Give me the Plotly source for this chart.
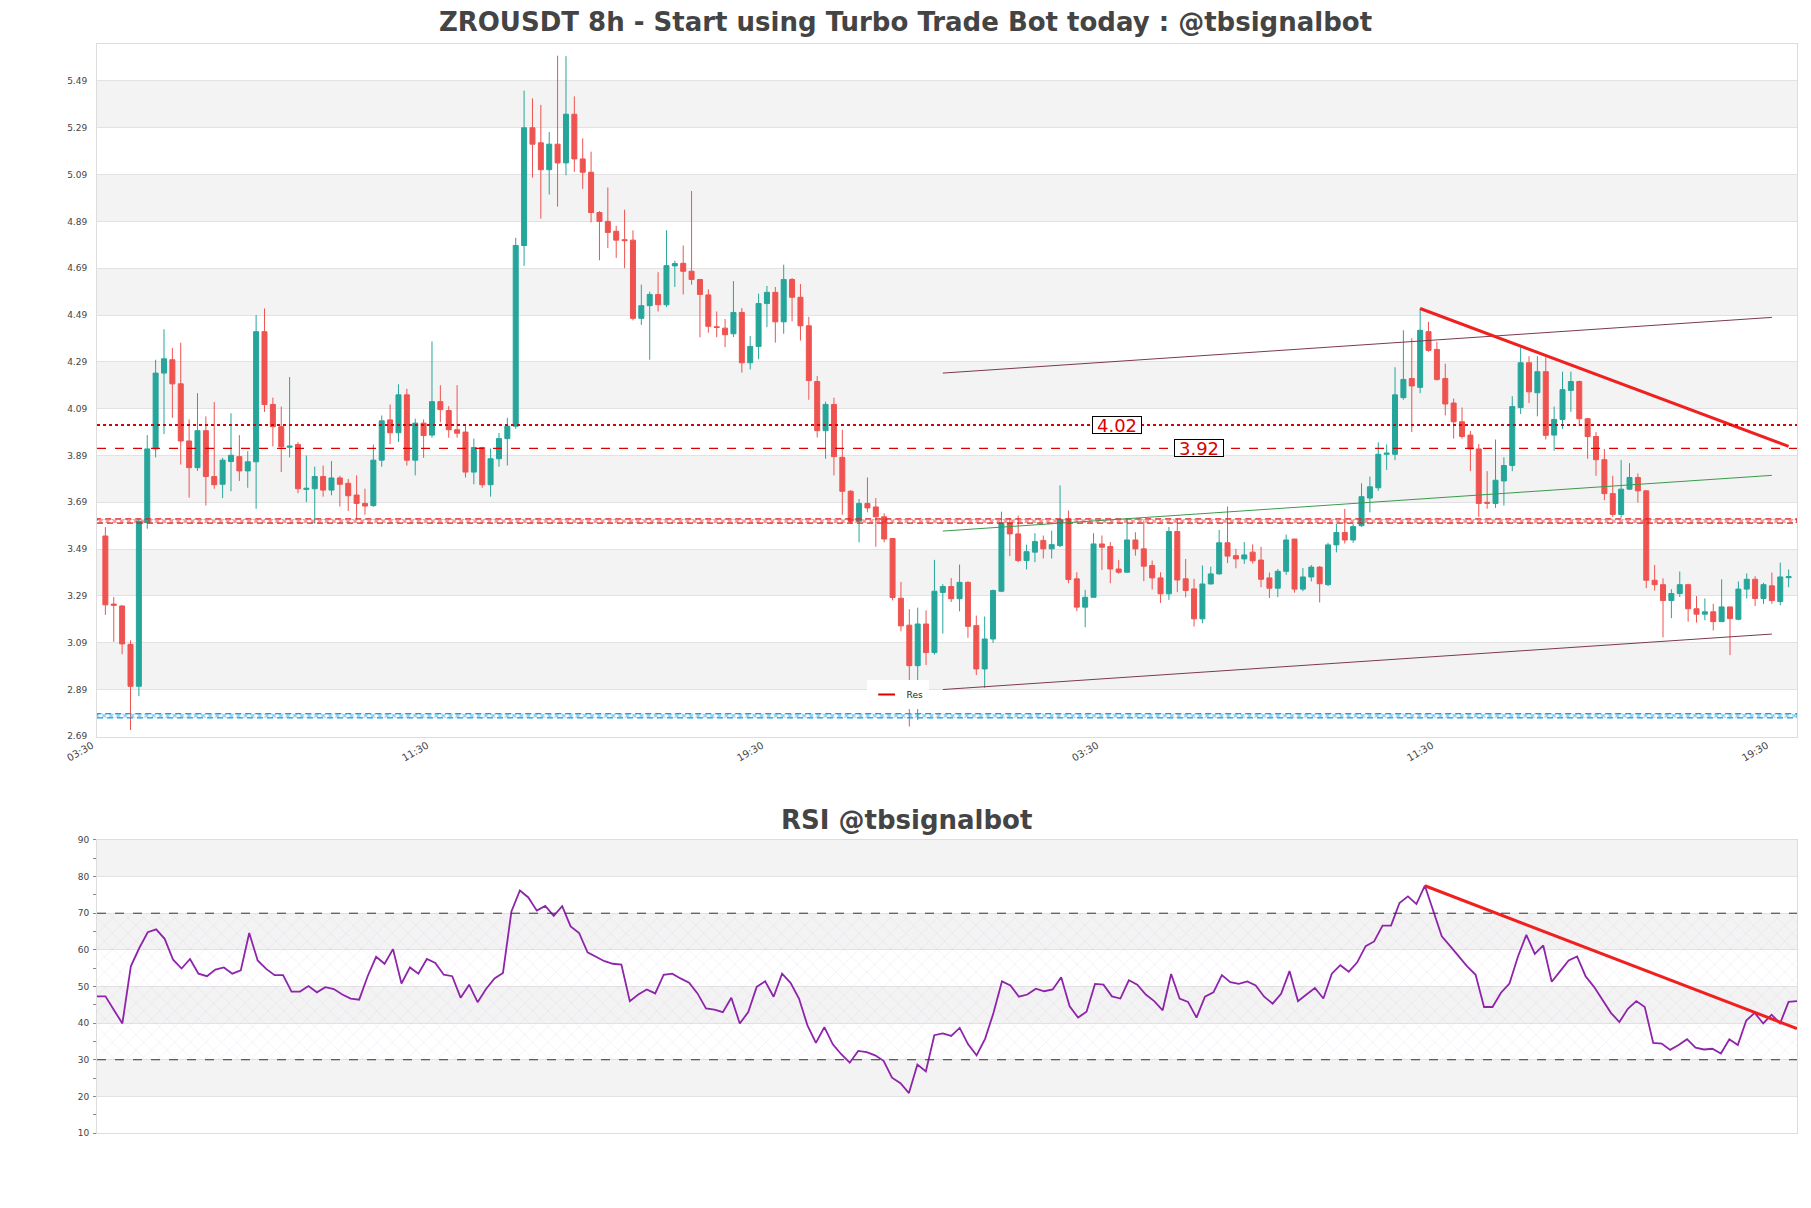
import plotly.graph_objects as go

# ---------------- data ----------------
candle_idx = list(range(202))
opens = [3.546,3.255,3.247,3.083,2.904,3.603,3.918,4.242,4.299,4.196,3.952,3.838,3.996,3.800,3.767,3.864,3.885,3.824,3.863,4.419,
 4.108,4.013,3.925,3.937,3.745,3.748,3.800,3.742,3.794,3.771,3.721,3.685,3.676,3.870,4.042,3.987,4.149,3.870,4.028,3.977,
 4.120,4.082,4.000,3.990,3.819,3.924,3.765,3.876,3.962,4.015,4.787,5.290,5.226,5.111,5.220,5.140,5.348,5.157,5.100,4.928,
 4.890,4.848,4.812,4.810,4.476,4.530,4.578,4.534,4.700,4.711,4.677,4.642,4.576,4.440,4.434,4.410,4.501,4.286,4.356,4.539,
 4.587,4.461,4.642,4.566,4.444,4.206,3.996,4.108,3.882,3.737,3.609,3.685,3.670,3.628,3.535,3.280,3.165,2.992,3.170,3.048,
 3.305,3.330,3.278,3.348,3.163,2.978,3.106,3.310,3.602,3.555,3.441,3.477,3.527,3.491,3.505,3.616,3.363,3.242,3.284,3.512,
 3.501,3.405,3.391,3.529,3.491,3.420,3.367,3.299,3.565,3.363,3.320,3.192,3.341,3.384,3.517,3.462,3.448,3.477,3.443,3.367,
 3.323,3.395,3.533,3.319,3.371,3.413,3.338,3.508,3.561,3.529,3.590,3.708,3.752,3.895,3.895,4.137,4.219,4.181,4.419,4.343,
 4.219,4.114,4.034,3.977,3.918,3.690,3.685,3.781,3.847,4.095,4.286,4.158,4.248,3.977,4.044,4.168,4.206,4.047,3.971,3.872,
 3.727,3.638,3.746,3.796,3.739,3.357,3.338,3.270,3.300,3.338,3.235,3.212,3.222,3.180,3.243,3.190,3.319,3.361,3.279,3.333,
 3.266,3.368]
highs = [3.584,3.285,3.250,3.100,3.620,3.977,4.299,4.429,4.349,4.372,4.044,4.156,4.057,4.118,3.880,4.070,3.977,3.908,4.490,4.518,
 4.137,4.099,4.225,3.947,3.890,3.842,3.847,3.866,3.803,3.790,3.805,3.748,3.937,4.061,4.108,4.194,4.175,4.047,4.044,4.377,
 4.190,4.101,4.190,4.025,3.962,3.927,3.920,3.986,4.051,4.820,5.449,5.416,5.388,5.272,5.598,5.596,5.424,5.245,5.188,4.934,
 5.035,4.871,4.940,4.852,4.620,4.590,4.673,4.852,4.722,4.787,5.020,4.644,4.600,4.505,4.473,4.635,4.520,4.400,4.581,4.614,
 4.610,4.705,4.648,4.623,4.482,4.229,4.120,4.137,4.000,3.742,3.704,3.796,3.708,3.643,3.538,3.350,3.233,3.240,3.228,3.444,
 3.340,3.366,3.424,3.352,3.206,3.202,3.317,3.650,3.623,3.633,3.509,3.558,3.548,3.569,3.762,3.655,3.391,3.316,3.558,3.548,
 3.520,3.444,3.619,3.562,3.612,3.441,3.391,3.584,3.619,3.448,3.363,3.420,3.415,3.572,3.672,3.491,3.520,3.510,3.500,3.390,
 3.405,3.552,3.533,3.409,3.422,3.418,3.517,3.599,3.662,3.599,3.771,3.800,3.946,3.937,4.267,4.425,4.391,4.518,4.461,4.375,
 4.282,4.133,4.095,3.995,3.939,3.823,3.958,3.882,4.143,4.353,4.314,4.314,4.310,4.099,4.248,4.248,4.210,4.051,3.990,3.918,
 3.803,3.870,3.857,3.813,3.742,3.422,3.365,3.319,3.394,3.342,3.289,3.279,3.256,3.361,3.243,3.352,3.386,3.374,3.346,3.390,
 3.432,3.403]
lows = [3.209,3.094,3.041,2.717,2.862,3.577,3.882,3.981,4.051,3.851,3.710,3.824,3.676,3.748,3.708,3.737,3.781,3.752,3.662,4.076,
 3.929,3.819,3.882,3.729,3.691,3.599,3.714,3.720,3.672,3.653,3.618,3.637,3.670,3.842,3.939,3.948,3.847,3.805,3.880,3.966,
 4.032,3.966,3.966,3.796,3.767,3.752,3.714,3.842,3.847,4.004,4.700,5.077,4.902,5.005,4.953,5.087,5.102,5.029,4.886,4.724,
 4.776,4.734,4.690,4.467,4.448,4.299,4.505,4.524,4.610,4.578,4.620,4.395,4.415,4.395,4.353,4.396,4.244,4.257,4.301,4.438,
 4.372,4.410,4.463,4.381,4.128,3.967,3.876,3.805,3.637,3.599,3.519,3.647,3.500,3.519,3.271,3.139,2.732,2.760,2.995,3.039,
 3.129,3.264,3.224,3.111,2.952,2.897,3.089,3.306,3.460,3.434,3.403,3.434,3.450,3.450,3.498,3.344,3.225,3.156,3.284,3.401,
 3.344,3.384,3.391,3.462,3.353,3.317,3.260,3.273,3.306,3.284,3.159,3.173,3.339,3.381,3.430,3.408,3.427,3.428,3.327,3.281,
 3.285,3.380,3.304,3.310,3.352,3.262,3.332,3.476,3.514,3.517,3.585,3.647,3.739,3.828,3.870,4.128,3.990,4.156,4.333,4.210,
 4.061,3.962,3.962,3.823,3.628,3.662,3.666,3.676,3.823,4.067,4.114,4.057,3.958,3.910,4.004,4.076,4.015,3.876,3.803,3.699,
 3.628,3.624,3.742,3.689,3.323,3.313,3.113,3.195,3.285,3.180,3.176,3.186,3.142,3.180,3.037,3.186,3.279,3.247,3.256,3.256,
 3.250,3.327]
closes = [3.252,3.250,3.085,2.904,3.609,3.918,4.242,4.303,4.196,3.952,3.838,3.996,3.800,3.765,3.870,3.891,3.824,3.863,4.419,4.108,
 4.013,3.927,3.930,3.748,3.750,3.800,3.742,3.794,3.767,3.718,3.685,3.674,3.870,4.038,3.987,4.149,3.870,4.028,3.975,4.120,
 4.086,4.000,3.985,3.819,3.924,3.765,3.876,3.962,4.015,4.787,5.290,5.220,5.111,5.220,5.140,5.348,5.157,5.100,4.928,4.890,
 4.843,4.810,4.808,4.476,4.530,4.578,4.534,4.701,4.710,4.677,4.642,4.578,4.442,4.437,4.406,4.501,4.286,4.356,4.539,4.587,
 4.461,4.642,4.566,4.444,4.210,3.996,4.108,3.885,3.737,3.609,3.685,3.666,3.628,3.533,3.283,3.162,2.992,3.170,3.048,3.310,
 3.330,3.278,3.348,3.160,2.978,3.106,3.313,3.602,3.555,3.441,3.479,3.522,3.491,3.509,3.616,3.360,3.242,3.284,3.512,3.498,
 3.405,3.391,3.529,3.491,3.417,3.367,3.299,3.565,3.358,3.313,3.192,3.341,3.384,3.517,3.460,3.448,3.465,3.440,3.361,3.323,
 3.395,3.529,3.319,3.371,3.413,3.342,3.508,3.561,3.529,3.586,3.714,3.756,3.895,3.900,4.149,4.215,4.187,4.425,4.339,4.215,
 4.110,4.034,3.971,3.918,3.685,3.686,3.784,3.847,4.099,4.286,4.162,4.248,3.976,4.044,4.171,4.206,4.047,3.971,3.872,3.727,
 3.638,3.746,3.796,3.739,3.357,3.338,3.270,3.300,3.338,3.235,3.212,3.222,3.180,3.243,3.193,3.319,3.361,3.279,3.338,3.270,
 3.371,3.372]
rsi = [47.3,47.3,43.6,39.9,55.5,60.5,64.8,65.6,63.0,57.3,54.9,57.5,53.5,52.8,54.6,55.2,53.5,54.4,64.6,57.1,
 54.8,53.1,53.1,48.6,48.6,50.1,48.4,49.8,49.3,47.8,46.7,46.4,52.8,58.1,56.2,60.2,50.8,55.2,53.5,57.5,
 56.4,53.2,52.8,46.9,50.5,45.7,49.3,52.2,53.7,70.5,76.2,74.3,70.7,72.0,69.3,71.9,66.4,64.6,59.3,58.2,
 56.9,56.2,56.0,46.0,47.8,49.2,48.1,53.2,53.5,52.2,51.0,48.1,44.0,43.7,43.0,46.9,39.9,43.0,49.9,51.4,
 47.2,53.5,51.0,46.7,39.4,34.6,38.9,34.2,31.5,29.2,32.4,32.1,31.2,29.7,25.1,23.6,20.9,28.7,26.8,36.7,
 37.2,36.5,38.7,34.2,31.2,35.7,42.8,51.4,50.3,47.2,47.8,49.4,48.7,49.2,52.5,44.6,41.5,43.1,50.7,50.5,
 47.3,46.7,51.7,50.5,47.8,46.0,43.5,53.4,46.7,45.8,41.5,47.2,48.4,53.1,51.2,50.7,51.4,50.3,47.2,45.3,
 48.0,54.2,46.0,47.8,49.6,46.7,53.5,55.8,54.0,56.6,61.0,62.3,66.6,66.6,72.8,74.6,72.5,77.5,70.9,63.7,
 61.0,58.2,55.5,53.2,44.4,44.4,48.3,50.8,58.1,64.1,58.9,61.2,51.3,54.2,57.1,58.2,52.8,49.9,46.4,42.8,
 40.3,43.9,46.0,44.4,34.6,34.4,32.7,34.0,35.6,33.3,32.8,33.0,31.7,35.6,34.0,40.7,42.8,39.9,42.3,39.9,
 45.8,46.0]

price_ticks = [2.69,2.89,3.09,3.29,3.49,3.69,3.89,4.09,4.29,4.49,4.69,4.89,5.09,5.29,5.49]
time_tick_pos = [-1,39,79,119,159,199]
time_tick_labels = ["03:30","11:30","19:30","03:30","11:30","19:30"]
rsi_ticks = [10,20,30,40,50,60,70,80,90]

res_dotted = 4.02
res_dashed = 3.92
zone_red = [3.601, 3.619]
zone_blue = [2.769, 2.787]

channel_x = [100, 199]
channel_upper = [4.242, 4.480]
channel_lower = [2.890, 3.127]
channel_mid = [3.567, 3.805]
down_x = [157, 201]
down_y = [4.518, 3.929]
rsi_down_y = [77.5, 38.5]
rsi_levels = [70, 30]

# ---------------- figure ----------------
UP = '#26a69a'
DOWN = '#ef5350'
RED = '#e00000'
fig = go.Figure()

shapes = []
for i in range(1, len(price_ticks) - 1, 2):
    shapes.append(dict(type='rect', xref='x domain', yref='y', x0=0, x1=1,
                       y0=price_ticks[i], y1=price_ticks[i + 1],
                       fillcolor='#f3f3f3', line=dict(width=0), layer='below'))
for lo in [20, 40, 60, 80]:
    shapes.append(dict(type='rect', xref='x2 domain', yref='y2', x0=0, x1=1,
                       y0=lo, y1=lo + 10, fillcolor='#f3f3f3', line=dict(width=0), layer='below'))

# hatched zones
for zone, col in [(zone_red, '#e02020'), (zone_blue, '#1e9be0')]:
    fig.add_trace(go.Scatter(
        x=[-1, 202, 202, -1, -1], y=[zone[0], zone[0], zone[1], zone[1], zone[0]],
        fill='toself', fillcolor='rgba(0,0,0,0)', mode='lines',
        line=dict(color=col, width=1.2, dash='6px,4px'),
        fillpattern=dict(shape='x', fgcolor=col, size=5, solidity=0.5, bgcolor='rgba(255,255,255,0)'),
        showlegend=False, hoverinfo='skip', xaxis='x', yaxis='y'))

shapes.append(dict(type='line', xref='x domain', yref='y', x0=0, x1=1, y0=res_dotted, y1=res_dotted,
                   line=dict(color=RED, width=2, dash='dot')))
shapes.append(dict(type='line', xref='x domain', yref='y', x0=0, x1=1, y0=res_dashed, y1=res_dashed,
                   line=dict(color=RED, width=1.3, dash='dash')))

fig.add_trace(go.Candlestick(
    x=candle_idx, open=opens, high=highs, low=lows, close=closes,
    increasing=dict(line=dict(color=UP, width=1), fillcolor=UP),
    decreasing=dict(line=dict(color=DOWN, width=1), fillcolor=DOWN),
    whiskerwidth=0, showlegend=False, xaxis='x', yaxis='y'))

fig.add_trace(go.Scatter(x=channel_x, y=channel_upper, mode='lines', line=dict(color='#7d3a4c', width=1),
                         showlegend=False, xaxis='x', yaxis='y'))
fig.add_trace(go.Scatter(x=channel_x, y=channel_lower, mode='lines', line=dict(color='#7d3a4c', width=1),
                         showlegend=False, xaxis='x', yaxis='y'))
fig.add_trace(go.Scatter(x=channel_x, y=channel_mid, mode='lines', line=dict(color='#3a9a4a', width=1),
                         showlegend=False, xaxis='x', yaxis='y'))
fig.add_trace(go.Scatter(x=down_x, y=down_y, mode='lines', line=dict(color='#f02020', width=3),
                         showlegend=False, xaxis='x', yaxis='y'))

fig.add_trace(go.Scatter(x=[None], y=[None], mode='markers', name='Res',
                         marker=dict(symbol='line-ew-open', size=12, color=RED,
                                     line=dict(color=RED, width=2)),
                         xaxis='x', yaxis='y'))

fig.add_trace(go.Scatter(
    x=[0, 201, 201, 0, 0], y=[30, 30, 70, 70, 30], fill='toself', fillcolor='rgba(0,0,0,0)',
    mode='lines', line=dict(width=0),
    fillpattern=dict(shape='x', fgcolor='rgba(200,160,220,0.6)', size=11, solidity=0.08,
                     bgcolor='rgba(255,255,255,0)'),
    showlegend=False, hoverinfo='skip', xaxis='x2', yaxis='y2'))
for lv in rsi_levels:
    shapes.append(dict(type='line', xref='x2 domain', yref='y2', x0=0, x1=1, y0=lv, y1=lv,
                       line=dict(color='#333333', width=1, dash='dash')))
fig.add_trace(go.Scatter(x=candle_idx, y=rsi, mode='lines', line=dict(color='#8e24aa', width=1.8),
                         showlegend=False, xaxis='x2', yaxis='y2'))
fig.add_trace(go.Scatter(x=down_x, y=rsi_down_y, mode='lines', line=dict(color='#f02020', width=3),
                         showlegend=False, xaxis='x2', yaxis='y2'))

annotations = [
    dict(x=120.8, y=res_dotted, xref='x', yref='y', text='4.02', showarrow=False,
         font=dict(size=18, color=RED), bgcolor='white', bordercolor='black',
         borderwidth=1, borderpad=0, width=48, height=16),
    dict(x=130.6, y=res_dashed, xref='x', yref='y', text='3.92', showarrow=False,
         font=dict(size=18, color=RED), bgcolor='white', bordercolor='black',
         borderwidth=1, borderpad=0, width=48, height=16),
    dict(x=0.4759, y=0.2874, xref='paper', yref='paper', text='<b>RSI @tbsignalbot</b>',
         showarrow=False, font=dict(size=26, color='#444444'), xanchor='center', yanchor='middle'),
]

fig.update_layout(
    width=1811, height=1208,
    margin=dict(l=97, r=14, t=44, b=75),
    paper_bgcolor='white', plot_bgcolor='white',
    font=dict(family='DejaVu Sans', size=9, color='#444444'),
    title=dict(text='<b>ZROUSDT 8h - Start using Turbo Trade Bot today : @tbsignalbot</b>',
               x=0.5, xref='container', y=1 - 22 / 1208, yanchor='middle',
               font=dict(size=26, color='#444444')),
    shapes=shapes, annotations=annotations,
    boxgap=0.15, boxgroupgap=0.3,
    showlegend=True,
    legend=dict(x=0.4527, y=0.4160, xanchor='left', yanchor='top', bgcolor='white',
                font=dict(size=9, color='#222222'), borderwidth=0),
    xaxis=dict(domain=[0, 1], anchor='y', range=[-1, 202], showgrid=False, zeroline=False,
               tickmode='array', tickvals=time_tick_pos, ticktext=time_tick_labels, tickangle=-30,
               rangeslider=dict(visible=False), showline=True, mirror=True, linecolor='#dddddd',
               ticks='', tickfont=dict(size=10), ticklabelshift=-5, ticklabelstandoff=-2),
    yaxis=dict(domain=[0.3636, 1], anchor='x', range=[2.687, 5.648], tickmode='array',
               tickvals=price_ticks, ticktext=['%.2f' % v for v in price_ticks],
               showgrid=True, gridcolor='#e2e2e2', zeroline=False, showline=True, mirror=True,
               linecolor='#dddddd', ticks='', tickfont=dict(size=9), ticklabelstandoff=7),
    xaxis2=dict(domain=[0, 1], anchor='y2', range=[0, 201], showgrid=False, zeroline=False,
                showticklabels=False, showline=True, mirror=True, linecolor='#dddddd', ticks=''),
    yaxis2=dict(domain=[0, 0.2691], anchor='x2', range=[10, 90], tickmode='array', tickvals=rsi_ticks,
                showgrid=True, gridcolor='#e2e2e2', zeroline=False, showline=True, mirror=True,
                linecolor='#dddddd', ticks='outside', ticklen=3, tickcolor='#888888',
                minor=dict(ticks='outside', ticklen=3, tickcolor='#888888', tickvals=[15,25,35,45,55,65,75,85]),
                tickfont=dict(size=9), ticklabelstandoff=2),
)

fig.write_html('out.html')
